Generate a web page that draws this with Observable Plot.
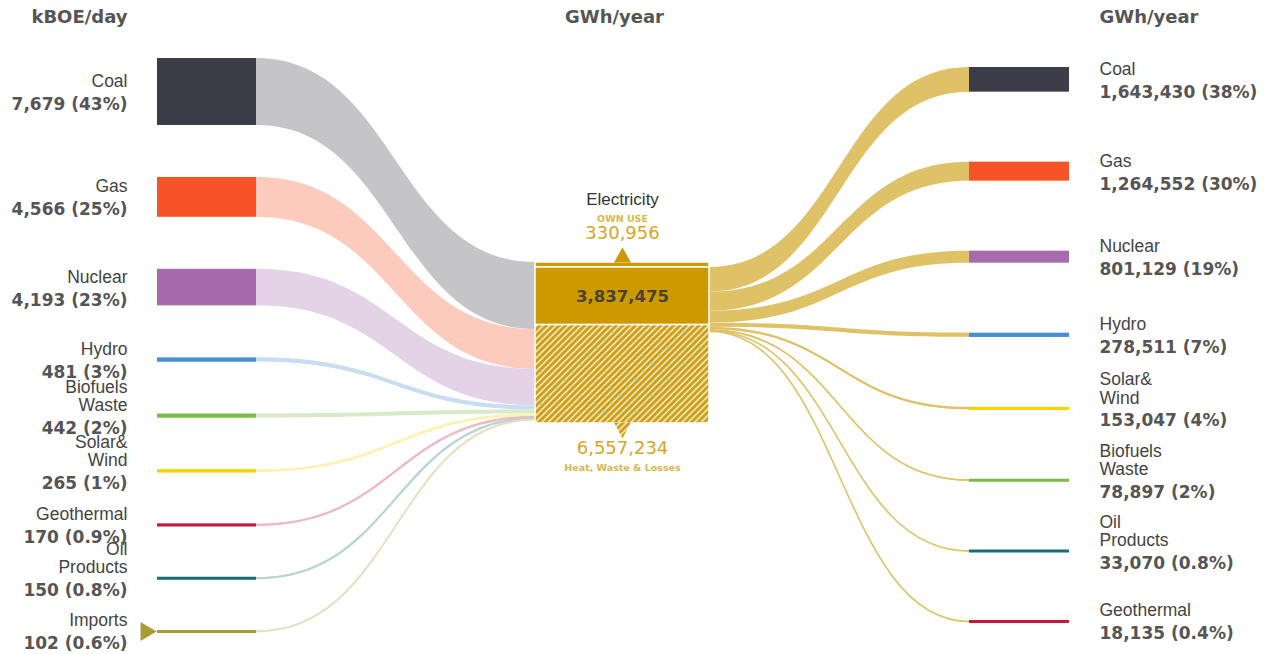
<!DOCTYPE html>
<html><head><meta charset="utf-8">
<script src="https://cdn.jsdelivr.net/npm/d3@7"></script>
<script src="https://cdn.jsdelivr.net/npm/@observablehq/plot@0.6"></script>
<style>html,body{margin:0;padding:0;background:#fff;overflow:hidden}</style>
</head><body><div id="chart"></div>
<script>
// ---------- DATA ----------
const sourceNames  = ["Coal","Gas","Nuclear","Hydro","Biofuels\nWaste","Solar&\nWind","Geothermal","Oil\nProducts","Imports"];
const sourceValues = [7679, 4566, 4193, 481, 442, 265, 170, 150, 102];            // kBOE/day
const sourceShares = ["43%","25%","23%","3%","2%","1%","0.9%","0.8%","0.6%"];
const sourceColors = ["#3c3c48","#f65327","#a66aad","#4a8fd0","#78bc48","#f9d100","#c4173a","#176e78","#a99c34"];

const outputNames  = ["Coal","Gas","Nuclear","Hydro","Solar&\nWind","Biofuels\nWaste","Oil\nProducts","Geothermal"];
const outputValues = [1643430, 1264552, 801129, 278511, 153047, 78897, 33070, 18135]; // GWh/year
const outputShares = ["38%","30%","19%","7%","4%","2%","0.8%","0.4%"];
const outputColors = ["#3c3c48","#f65327","#a66aad","#4a8fd0","#f9d100","#78bc48","#176e78","#c4173a"];

const hubTitle  = "Electricity";
const hubParts  = ["Own use", "Electricity", "Heat, Waste & Losses"];
const hubValues = [330956, 3837475, 6557234];                                      // GWh/year

const headerLeft = "kBOE/day", headerCenter = "GWh/year", headerRight = "GWh/year";

// ---------- LAYOUT ----------
const W = 1272, H = 654;
const K = 581;                 // GWh/year per kBOE/day (energy conversion used for band widths)
const U = 66620;               // GWh/year represented by one pixel
const Y_MAX = H * U;
const LEFT_TOP = 58 * U, LEFT_GAP = 52 * U;
const RIGHT_TOP = 67 * U, RIGHT_GAP = 70 * U;
const HUB_TOP = 262 * U;
const X = {labelL: 127/W, nodeL0: 157/W, nodeL1: 256/W, hub0: 535/W, hub1: 709/W, hubMid: 622/W,
           nodeR0: 969/W, nodeR1: 1069/W, labelR: 1099/W, headMid: 614/W};

const fmt = d3.format(",");
const light = c => d3.interpolateRgb("#ffffff", c)(0.3);

let acc = LEFT_TOP, hubAcc = HUB_TOP;
const left = sourceNames.map((name, i) => {
  const h = sourceValues[i] * K;
  const n = {name, color: sourceColors[i], label: `${fmt(sourceValues[i])} (${sourceShares[i]})`,
             y0: acc, y1: acc + h, ym: acc + h / 2, h0: hubAcc, h1: hubAcc + h};
  acc += h + LEFT_GAP; hubAcc += h;
  return n;
});

acc = RIGHT_TOP; hubAcc = HUB_TOP + hubValues[0];
const right = outputNames.map((name, i) => {
  const h = outputValues[i];
  const n = {name, color: outputColors[i], label: `${fmt(outputValues[i])} (${outputShares[i]})`,
             y0: acc, y1: acc + h, ym: acc + h / 2, h0: hubAcc, h1: hubAcc + h};
  acc += h + RIGHT_GAP; hubAcc += h;
  return n;
});

const leftFlows = left.flatMap((n, i) => [
  {id: "L" + i, x: X.nodeL1, y1: n.y0, y2: n.y1, ym: n.ym, color: light(n.color)},
  {id: "L" + i, x: X.hub0, y1: n.h0, y2: n.h1, ym: (n.h0 + n.h1) / 2, color: light(n.color)}
]);
const FLOW_GOLD = "#dfc267";
const rightFlows = right.flatMap((n, i) => [
  {id: "R" + i, x: X.hub1, y1: n.h0, y2: n.h1, ym: (n.h0 + n.h1) / 2, color: FLOW_GOLD},
  {id: "R" + i, x: X.nodeR0, y1: n.y0, y2: n.y1, ym: n.ym, color: FLOW_GOLD}
]);

let hacc = HUB_TOP;
const hub = hubValues.map((v, i) => {
  const r = {part: hubParts[i], value: v, y1: hacc, y2: hacc + v, fill: i === 2 ? "url(#hatch)" : "#cc9a00"};
  hacc += v; return r;
});

const triUp = {draw(c) { c.moveTo(-8.5, 0); c.lineTo(8.5, 0); c.lineTo(0, -15); c.closePath(); }};
const triDown = {draw(c) { c.moveTo(-8.5, -1); c.lineTo(8.5, -1); c.lineTo(0, 15); c.closePath(); }};
const triRight = {draw(c) { c.moveTo(-17, -9.5); c.lineTo(-17, 9.5); c.lineTo(-1, 0); c.closePath(); }};

const NAME_FONT = "'Liberation Sans', Arial, sans-serif";
const NUM_FONT = "'DejaVu Sans', Verdana, sans-serif";

const nodeMarks = (nodes, x0, x1) => [
  Plot.rect(nodes, {x1: () => x0, x2: () => x1, y1: "y0", y2: "y1", fill: "color"}),
  Plot.ruleY(nodes, {x1: () => x0, x2: () => x1, y: "ym", stroke: "color", strokeWidth: 3})
];
const header = (txt, x, anchor) => Plot.text([txt], {x: () => x, text: d => d, frameAnchor: "top", lineAnchor: "middle",
  dy: 17, textAnchor: anchor, fontSize: 18, fontWeight: "bold", fontFamily: NUM_FONT, fill: "#555"});

const svg = Plot.plot({
  width: W, height: H, margin: 0,
  x: {domain: [0, 1], range: [0, W], axis: null},
  y: {domain: [0, Y_MAX], range: [0, H], axis: null},
  color: {type: "identity"},
  style: {background: "#fff"},
  marks: [
    Plot.areaY(leftFlows, {x: "x", y1: "y1", y2: "y2", z: "id", fill: "color", curve: "bump-x"}),
    Plot.line(leftFlows, {x: "x", y: "ym", z: "id", stroke: "color", strokeWidth: 2, curve: "bump-x"}),
    Plot.areaY(rightFlows, {x: "x", y1: "y1", y2: "y2", z: "id", fill: "color", curve: "bump-x"}),
    Plot.line(rightFlows, {x: "x", y: "ym", z: "id", stroke: "color", strokeWidth: 1.6, curve: "bump-x"}),
    Plot.rect(hub, {x1: () => X.hub0, x2: () => X.hub1, y1: "y1", y2: "y2", fill: "fill", stroke: "#fff", strokeWidth: 1.5}),
    Plot.dot([hub[0]], {x: () => X.hubMid, y: "y1", symbol: triUp, fill: "#cc9a00"}),
    Plot.dot([hub[2]], {x: () => X.hubMid, y: "y2", symbol: triDown, fill: "url(#hatch)"}),
    Plot.dot([left[left.length - 1]], {x: () => X.nodeL0, y: "ym", symbol: triRight, fill: "color"}),
    ...nodeMarks(left, X.nodeL0, X.nodeL1),
    ...nodeMarks(right, X.nodeR0, X.nodeR1),
    // left labels
    Plot.text(left, {x: () => X.labelL, y: "ym", text: "name", textAnchor: "end", lineAnchor: "bottom", dy: -5,
      lineHeight: 1.03, fontSize: 17.5, fontFamily: NAME_FONT, fill: "#444"}),
    Plot.text(left, {x: () => X.labelL, y: "ym", text: "label", textAnchor: "end", dy: 12.5,
      fontSize: 17, fontWeight: "bold", fontFamily: NUM_FONT, fill: "#555"}),
    // right labels
    Plot.text(right, {x: () => X.labelR, y: "ym", text: "name", textAnchor: "start", lineAnchor: "bottom", dy: -5,
      lineHeight: 1.03, fontSize: 17.5, fontFamily: NAME_FONT, fill: "#444"}),
    Plot.text(right, {x: () => X.labelR, y: "ym", text: "label", textAnchor: "start", dy: 12.5,
      fontSize: 17, fontWeight: "bold", fontFamily: NUM_FONT, fill: "#555"}),
    // hub labels
    Plot.text([hubTitle], {x: () => X.hubMid, y: () => HUB_TOP, text: d => d, dy: -63,
      fontSize: 17, fontFamily: NAME_FONT, fill: "#333"}),
    Plot.text([hub[0]], {x: () => X.hubMid, y: "y1", text: d => d.part.toUpperCase(), dy: -44,
      fontSize: 9.5, fontWeight: "bold", fontFamily: NUM_FONT, fill: "#dcb64a"}),
    Plot.text([hub[0]], {x: () => X.hubMid, y: "y1", text: d => fmt(d.value), dy: -29,
      fontSize: 18, fontFamily: NUM_FONT, fill: "#d4a62a"}),
    Plot.text([hub[1]], {x: () => X.hubMid, y: d => (d.y1 + d.y2) / 2, text: d => fmt(d.value),
      fontSize: 16.5, fontWeight: "bold", fontFamily: NUM_FONT, fill: "#4a4232"}),
    Plot.text([hub[2]], {x: () => X.hubMid, y: "y2", text: d => fmt(d.value), dy: 25,
      fontSize: 18, fontFamily: NUM_FONT, fill: "#d4a62a"}),
    Plot.text([hub[2]], {x: () => X.hubMid, y: "y2", text: "part", dy: 44,
      fontSize: 9.5, fontWeight: "bold", fontFamily: NUM_FONT, fill: "#dcb64a"}),
    // headers
    header(headerLeft, X.labelL, "end"),
    header(headerCenter, X.headMid, "middle"),
    header(headerRight, X.labelR, "start")
  ]
});

d3.select(svg).insert("defs", ":first-child").html(`
  <pattern id="hatch" patternUnits="userSpaceOnUse" width="4.5" height="4.5" patternTransform="rotate(45)">
    <rect width="4.5" height="4.5" fill="#cf9e10"></rect>
    <line x1="2.25" y1="0" x2="2.25" y2="4.5" stroke="#fff" stroke-width="1.3"></line>
  </pattern>`);
document.getElementById("chart").append(svg);
</script>
</body></html>
